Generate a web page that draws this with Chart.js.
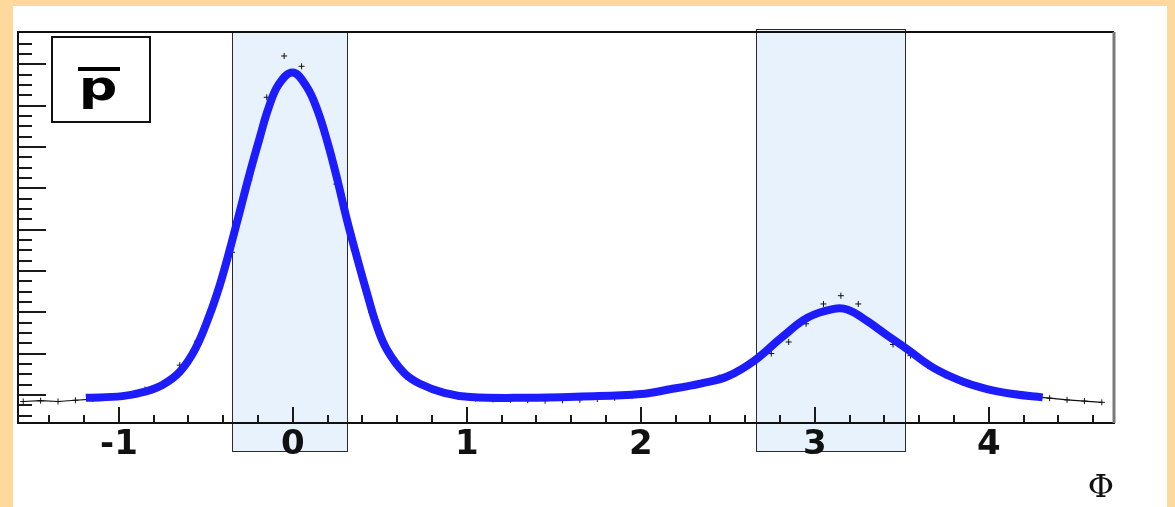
<!DOCTYPE html>
<html>
<head>
<meta charset="utf-8">
<script src="https://cdn.jsdelivr.net/npm/chart.js@4.4.1/dist/chart.umd.min.js"></script>
<style>
  html, body { margin: 0; padding: 0; background: #fdd99b; overflow: hidden; }
  #frame { position: absolute; left: 13px; top: 6px; width: 1154px; height: 501px; background: #fff; }
</style>
</head>
<body>
<div id="frame"><canvas id="chartPhi" width="1154" height="501"></canvas></div>
<script>
// Phi distribution (pbar) — data histogram + fit

const dataPhi = [-1.55, -1.45, -1.35, -1.25, -1.15, -1.05, -0.95, -0.85, -0.75, -0.65,
    -0.55, -0.45, -0.35, -0.25, -0.15, -0.05, 0.05, 0.15, 0.25, 0.35,
    0.45, 0.55, 0.65, 0.75, 0.85, 0.95, 1.05, 1.15, 1.25, 1.35,
    1.45, 1.55, 1.65, 1.75, 1.85, 1.95, 2.05, 2.15, 2.25, 2.35,
    2.45, 2.55, 2.65, 2.75, 2.85, 2.95, 3.05, 3.15, 3.25, 3.35,
    3.45, 3.55, 3.65, 3.75, 3.85, 3.95, 4.05, 4.15, 4.25, 4.35,
    4.45, 4.55, 4.65];
const dataCounts = [0.84, 0.86, 0.84, 0.87, 0.90, 0.94, 0.98, 1.13, 1.27, 1.72,
    2.30, 3.25, 4.45, 6.20, 8.20, 9.20, 8.95, 7.75, 6.10, 4.50,
    3.00, 1.98, 1.45, 1.22, 1.07, 0.96, 0.91, 0.89, 0.88, 0.87,
    0.86, 0.87, 0.88, 0.90, 0.93, 0.98, 1.06, 1.15, 1.22, 1.30,
    1.42, 1.58, 1.80, 2.00, 2.28, 2.72, 3.20, 3.40, 3.20, 2.65,
    2.22, 1.95, 1.70, 1.47, 1.30, 1.17, 1.07, 1.01, 0.96, 0.92,
    0.88, 0.85, 0.82];

const fitPhi = [-1.19, -0.98, -0.85, -0.75, -0.65, -0.56, -0.48, -0.42, -0.37, -0.31,
    -0.25, -0.19, -0.14, -0.08, 0.00, 0.08, 0.14, 0.20, 0.25, 0.31,
    0.37, 0.43, 0.48, 0.54, 0.64, 0.73, 0.87, 1.02, 1.34, 1.66,
    2.00, 2.16, 2.35, 2.50, 2.65, 2.81, 2.96, 3.11, 3.19, 3.30,
    3.42, 3.53, 3.68, 3.84, 3.99, 4.14, 4.31];
const fitCounts = [0.93, 0.97, 1.08, 1.24, 1.56, 2.12, 2.92, 3.66, 4.40, 5.36,
    6.33, 7.23, 7.94, 8.52, 8.80, 8.45, 7.90, 7.10, 6.30, 5.25,
    4.30, 3.40, 2.70, 2.10, 1.53, 1.27, 1.05, 0.95, 0.93, 0.96,
    1.02, 1.13, 1.28, 1.45, 1.82, 2.39, 2.87, 3.08, 3.06, 2.79,
    2.43, 2.11, 1.66, 1.34, 1.14, 1.02, 0.94];

// selection windows around the two peaks
const bandPhi = [[-0.35, 0.31], [2.66, 3.52]];

const xTicks = [-1, 0, 1, 2, 3, 4];
const xTitle = 'Φ';
const legendText = 'p';

function toPoints(xs, ys) {
    return xs.map(function(v, i) { return { x: v, y: ys[i] }; });
}

const phiDecor = {
    id: 'phiDecor',
    beforeDraw(chart) {
        const { ctx, chartArea: a, scales: { x } } = chart;
        ctx.save();
        bandPhi.forEach(function(b, i) {
            const x0 = Math.round(x.getPixelForValue(b[0])) + 0.5;
            const x1 = Math.round(x.getPixelForValue(b[1])) + 0.5;
            const top = (i === 0 ? a.top : a.top - 3) + 0.5;
            const bottom = a.bottom + 28.5;
            ctx.fillStyle = '#e8f2fd';
            ctx.fillRect(x0, top, x1 - x0, bottom - top);
            ctx.strokeStyle = '#2a2a2a';
            ctx.lineWidth = 1;
            ctx.strokeRect(x0, top, x1 - x0, bottom - top);
        });
        ctx.restore();
    },
    beforeDatasetsDraw(chart) {
        const { ctx, chartArea: a, scales: { x, y } } = chart;
        ctx.save();
        ctx.strokeStyle = '#1a1a1a';
        ctx.lineWidth = 2;
        ctx.beginPath();
        // x ticks, pointing inward
        for (let k = -8; k <= 24; k++) {
            const v = k * 0.2;
            if (v <= x.min || v >= x.max) continue;
            const px = Math.round(x.getPixelForValue(v));
            const len = (k % 5 === 0) ? 16 : 8;
            ctx.moveTo(px, a.bottom);
            ctx.lineTo(px, a.bottom - len);
        }
        // y ticks, pointing inward
        for (let k = 1; k <= 40; k++) {
            const v = k * 0.25;
            if (v <= y.min) continue;
            const py = Math.round(y.getPixelForValue(v));
            if (py < a.top + 6) continue;
            const len = (k % 4 === 0) ? 28 : 14;
            ctx.moveTo(a.left, py);
            ctx.lineTo(a.left + len, py);
        }
        ctx.stroke();

        // frame: top + right
        ctx.beginPath();
        ctx.strokeStyle = '#111';
        ctx.lineWidth = 2;
        ctx.moveTo(a.left, a.top);
        ctx.lineTo(a.right, a.top);
        ctx.stroke();
        ctx.beginPath();
        ctx.strokeStyle = '#7a7a7a';
        ctx.lineWidth = 3;
        ctx.moveTo(a.right, a.top);
        ctx.lineTo(a.right, a.bottom);
        ctx.stroke();
        ctx.restore();
    },
    afterDraw(chart) {
        const { ctx, chartArea: a } = chart;
        const bx = a.left + 34, by = a.top + 5, bw = 98, bh = 85;
        ctx.save();
        ctx.fillStyle = '#fff';
        ctx.fillRect(bx, by, bw, bh);
        ctx.strokeStyle = '#111';
        ctx.lineWidth = 2;
        ctx.strokeRect(bx, by, bw, bh);
        ctx.fillStyle = '#000';
        ctx.fillRect(bx + 26, by + 30, 42, 4);
        // the original glyph is drawn wide, so stretch it a bit
        ctx.translate(bx + 46, by + 63);
        ctx.scale(1.35, 1);
        ctx.font = 'bold 40px "DejaVu Sans"';
        ctx.textAlign = 'center';
        ctx.textBaseline = 'alphabetic';
        ctx.fillText(legendText, 0, 0);
        ctx.restore();
    }
};

document.addEventListener('DOMContentLoaded', function() {
    const ctx = document.getElementById('chartPhi').getContext('2d');

    new Chart(ctx, {
        type: 'scatter',
        data: {
            datasets: [{
                label: 'fit',
                data: toPoints(fitPhi, fitCounts),
                showLine: true,
                borderColor: '#1c1cff',
                borderWidth: 8,
                pointRadius: 0,
                tension: 0.4,
                order: 0
            }, {
                label: 'data',
                data: toPoints(dataPhi, dataCounts),
                showLine: true,
                borderColor: '#111',
                borderWidth: 1.2,
                pointStyle: 'cross',
                pointRadius: 3,
                pointBorderWidth: 1,
                pointBorderColor: '#111',
                // only the tails read as a line; under the fit keep just the error marks
                segment: {
                    borderColor: function(s) {
                        return (s.p0.parsed.x > -1.2 && s.p1.parsed.x < 4.32) ? 'rgba(0,0,0,0)' : '#111';
                    }
                },
                order: 1
            }]
        },
        options: {
            responsive: false,
            animation: false,
            devicePixelRatio: 1,
            layout: { padding: { left: 2, top: 26, right: 53, bottom: 2 } },
            plugins: {
                legend: { display: false },
                tooltip: { enabled: false }
            },
            scales: {
                x: {
                    type: 'linear',
                    min: -1.58,
                    max: 4.72,
                    afterBuildTicks: function(scale) {
                        scale.ticks = xTicks.map(function(v) { return { value: v }; });
                    },
                    grid: { display: false, drawTicks: false },
                    border: { display: true, color: '#111', width: 2 },
                    ticks: {
                        color: '#111',
                        padding: 5,
                        maxRotation: 0,
                        autoSkip: false,
                        font: { size: 34, weight: 'bold', family: 'DejaVu Sans', lineHeight: 1 }
                    },
                    title: {
                        display: true,
                        text: xTitle,
                        align: 'end',
                        color: '#111',
                        padding: { top: 6, bottom: 0 },
                        font: { size: 32, family: 'DejaVu Serif', lineHeight: 1 }
                    }
                },
                y: {
                    type: 'linear',
                    min: 0.32,
                    max: 9.78,
                    grid: { display: false, drawTicks: false },
                    border: { display: true, color: '#111', width: 2 },
                    ticks: { display: false }
                }
            }
        },
        plugins: [phiDecor]
    });
});
</script>
</body>
</html>
